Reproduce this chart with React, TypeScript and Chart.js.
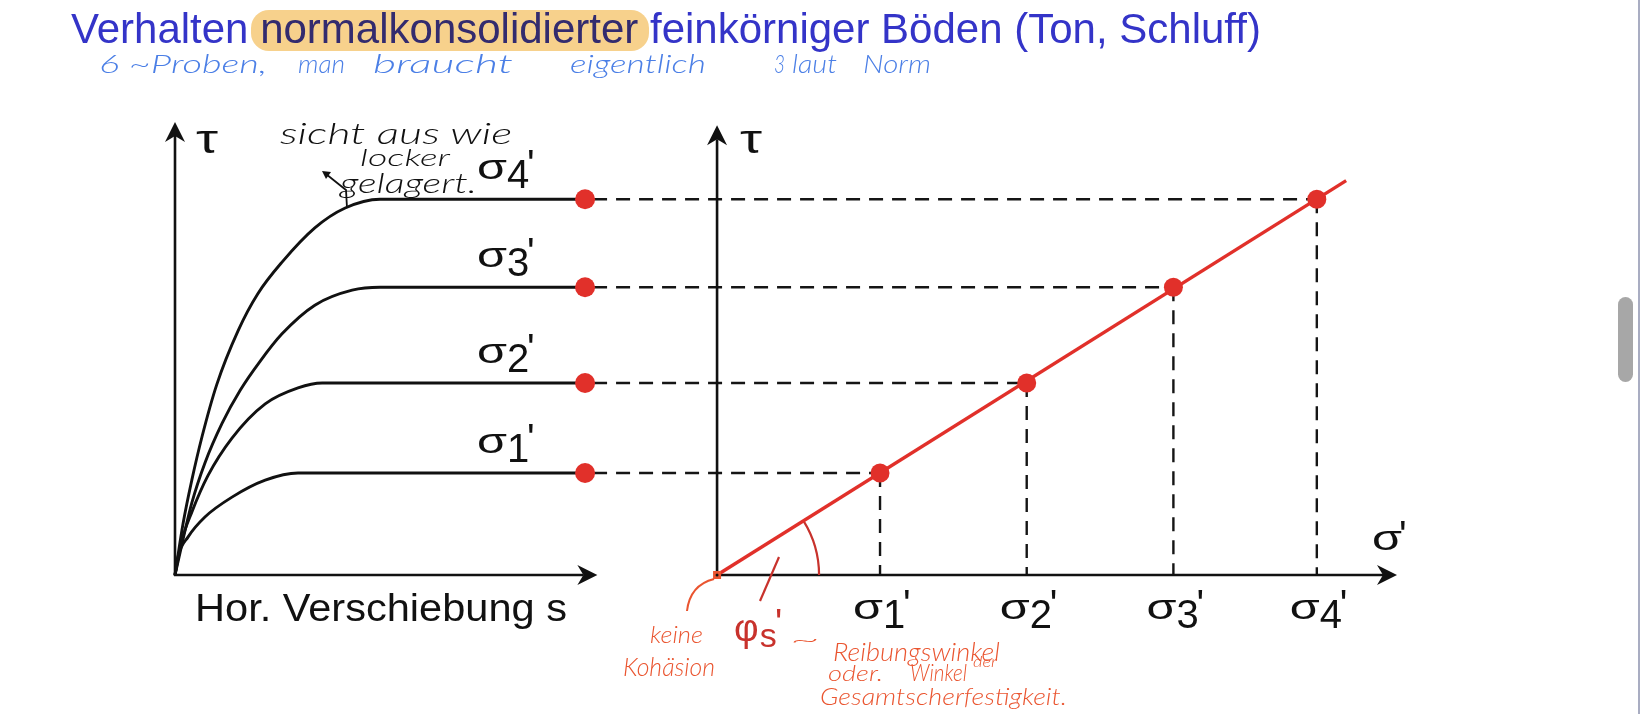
import React, { useEffect, useRef } from "react";
import { Chart, registerables } from "chart.js";

Chart.register(...registerables);

// ---------------- data ----------------
// shear stress axis (tau) shared by both diagrams
const tauAxisMax = 139;
// left diagram: horizontal displacement s
const shiftAxisEnd = 10.3;
const shiftAtMarker = 10;
// right diagram: effective normal stress sigma'
const sigmaAxisEnd = 208.6;

const sigmaNames = ["1", "2", "3", "4"];
const sigmaValues = [50, 95, 140, 184];
const tauPeak = [31.3, 58.9, 88.3, 115.3];
const failureSigma = [0, 193];
const failureTau = [0, 121];

const shift1 = [0, 0.07, 0.32, 0.73, 1.39, 2.2, 3.0, 10];
const tau1 = [0, 5.5, 11.7, 17.8, 23.9, 29.1, 31.3, 31.3];
const shift2 = [0, 0.17, 0.41, 0.8, 1.39, 2.2, 3.0, 3.59, 10];
const tau2 = [0, 10.7, 19.3, 30.4, 42.0, 52.5, 57.4, 58.9, 58.9];
const shift3 = [0, 0.41, 0.73, 1.15, 1.59, 2.07, 2.61, 3.41, 4.32, 5.0, 10];
const tau3 = [0, 22.1, 34.4, 46.6, 56.7, 65.5, 74.0, 82.8, 87.4, 88.3, 88.3];
const shift4 = [0, 0.2, 0.41, 0.66, 1.02, 1.54, 2.02, 2.61, 3.41, 4.15, 5.0, 10];
const tau4 = [0, 16.0, 29.1, 42.5, 58.5, 75.0, 86.3, 96.0, 106.5, 112.6, 115.3, 115.3];

const curveShifts = [shift1, shift2, shift3, shift4];
const curveTaus = [tau1, tau2, tau3, tau4];

// ---------------- styling / layout ----------------
const W = 1640;
const H = 714;
const PAD = { left: 175, right: 243, top: 122, bottom: 139 };
const SHIFT_SCALE_MAX = 29.8;
const SIGMA_SCALE_MIN = -166.3;
const RED = "#e1302a";
const DARKRED = "#c8322c";
const NOTE_RED = "#ea5530";
const NOTE_BLUE = "#4b7fe6";
const FONT = '"Liberation Sans", Arial, Helvetica, sans-serif';

let mctx: CanvasRenderingContext2D | null = null;
function measure(text: string, font: string) {
  if (!mctx) mctx = document.createElement("canvas").getContext("2d");
  mctx!.font = font;
  return mctx!.measureText(text).width;
}

function arrow(ctx: CanvasRenderingContext2D, x1: number, y1: number, x2: number, y2: number, len = 20, half = 10) {
  const a = Math.atan2(y2 - y1, x2 - x1);
  const ux = Math.cos(a), uy = Math.sin(a);
  const bx = x2 - ux * len * 0.7, by = y2 - uy * len * 0.7;
  ctx.beginPath();
  ctx.moveTo(x1, y1);
  ctx.lineTo(bx, by);
  ctx.stroke();
  ctx.beginPath();
  ctx.moveTo(x2, y2);
  ctx.lineTo(x2 - ux * len - uy * half, y2 - uy * len + ux * half);
  ctx.lineTo(bx, by);
  ctx.lineTo(x2 - ux * len + uy * half, y2 - uy * len - ux * half);
  ctx.closePath();
  ctx.fill();
}

function fitText(ctx: CanvasRenderingContext2D, text: string, x: number, y: number, font: string, width?: number) {
  ctx.font = font;
  const w = ctx.measureText(text).width;
  ctx.save();
  ctx.translate(x, y);
  if (width) ctx.scale(width / w, 1);
  ctx.fillText(text, 0, 0);
  ctx.restore();
  return width ?? w;
}

// sigma with subscript digit and prime; base = sigma baseline
function sigmaLabel(ctx: CanvasRenderingContext2D, digit: string, x: number, base: number) {
  ctx.fillStyle = "#111";
  ctx.textBaseline = "alphabetic";
  fitText(ctx, "σ", x, base, `35px ${FONT}`, 30);
  if (digit) {
    fitText(ctx, digit, x + 30, base + 9, `40px ${FONT}`);
    fitText(ctx, "'", x + 50, base - 1, `40px ${FONT}`);
  }
}

const slidePlugin = {
  id: "slide",
  beforeDatasetsDraw(chart: any) {
    const ctx: CanvasRenderingContext2D = chart.ctx;
    const xs = chart.scales.xs, xg = chart.scales.xsig, y = chart.scales.y;
    ctx.save();
    // dashed guides
    ctx.strokeStyle = "#151515";
    ctx.lineWidth = 2.4;
    ctx.setLineDash([14, 9]);
    sigmaValues.forEach((s, i) => {
      const py = y.getPixelForValue(tauPeak[i]);
      const px = xg.getPixelForValue(s);
      ctx.beginPath();
      ctx.moveTo(xs.getPixelForValue(shiftAtMarker) + 8, py);
      ctx.lineTo(px, py);
      ctx.stroke();
      ctx.beginPath();
      ctx.moveTo(px, py);
      ctx.lineTo(px, y.getPixelForValue(0));
      ctx.stroke();
    });
    ctx.setLineDash([]);
    // axes
    ctx.strokeStyle = "#111";
    ctx.fillStyle = "#111";
    ctx.lineWidth = 2.6;
    const y0 = y.getPixelForValue(0);
    const lx = xs.getPixelForValue(0);
    arrow(ctx, lx, y0 + 1, lx, y.getPixelForValue(tauAxisMax));
    arrow(ctx, lx - 1, y0, xs.getPixelForValue(shiftAxisEnd), y0);
    const rx = xg.getPixelForValue(0);
    arrow(ctx, rx, y0 + 1, rx, y.getPixelForValue(tauAxisMax - 1));
    arrow(ctx, rx - 1, y0, xg.getPixelForValue(sigmaAxisEnd), y0);
    // friction angle arc
    const p1x = xg.getPixelForValue(failureSigma[1]);
    const p1y = y.getPixelForValue(failureTau[1]);
    const ang = Math.atan2(p1y - y0, p1x - rx);
    ctx.strokeStyle = DARKRED;
    ctx.lineWidth = 2.2;
    ctx.beginPath();
    ctx.arc(rx, y0, 102, ang, 0);
    ctx.stroke();
    ctx.beginPath();
    ctx.moveTo(760, 601);
    ctx.lineTo(779, 557);
    ctx.stroke();
    ctx.restore();
  },
  afterDatasetsDraw(chart: any) {
    const ctx: CanvasRenderingContext2D = chart.ctx;
    const xs = chart.scales.xs, xg = chart.scales.xsig, y = chart.scales.y;
    ctx.save();
    ctx.fillStyle = "#111";
    ctx.textBaseline = "alphabetic";
    // tau labels
    fitText(ctx, "τ", 196, 153, `40px ${FONT}`, 22);
    fitText(ctx, "τ", 740, 153, `40px ${FONT}`, 22);
    // left sigma labels
    sigmaValues.forEach((_, i) => {
      const py = y.getPixelForValue(tauPeak[i]);
      sigmaLabel(ctx, sigmaNames[i], xs.getPixelForValue(shiftAtMarker) - 108, py - 20);
    });
    // bottom sigma labels
    sigmaValues.forEach((s, i) => {
      sigmaLabel(ctx, sigmaNames[i], xg.getPixelForValue(s) - 27, 619);
    });
    // sigma' axis label
    sigmaLabel(ctx, "", 1372, 550);
    fitText(ctx, "'", 1399, 549, `40px ${FONT}`);
    // x title
    fitText(ctx, "Hor. Verschiebung s", 195, 621, `38px ${FONT}`, 372);
    // phi_s'
    ctx.fillStyle = DARKRED;
    const wp = fitText(ctx, "φ", 734, 641, `38px ${FONT}`);
    fitText(ctx, "s", 734 + wp + 1, 647, `34px ${FONT}`);
    fitText(ctx, "'", 775, 636, `38px ${FONT}`);
    // origin marker + note curve
    const ox = xg.getPixelForValue(0), oy = y.getPixelForValue(0);
    ctx.strokeStyle = NOTE_RED;
    ctx.lineWidth = 2;
    ctx.beginPath();
    ctx.moveTo(ox - 3, oy + 4);
    ctx.quadraticCurveTo(690, 585, 687, 611);
    ctx.stroke();
    ctx.fillStyle = NOTE_RED;
    ctx.fillRect(ox - 4, oy - 4, 8, 8);
    ctx.fillStyle = "#111";
    ctx.beginPath();
    ctx.arc(ox, oy, 1.5, 0, Math.PI * 2);
    ctx.fill();
    // handwritten arrow near sigma4 curve
    ctx.strokeStyle = "#111";
    ctx.lineWidth = 1.8;
    ctx.beginPath();
    ctx.moveTo(347, 208);
    ctx.lineTo(346, 190);
    ctx.lineTo(326, 174);
    ctx.stroke();
    ctx.beginPath();
    ctx.moveTo(322, 171);
    ctx.lineTo(331, 172);
    ctx.lineTo(326, 179);
    ctx.closePath();
    ctx.fillStyle = "#111";
    ctx.fill();
    ctx.restore();
  },
};

type NoteProps = { text: string; left: number; top: number; width: number; size: number; color: string };
function Note({ text, left, top, width, size, color }: NoteProps) {
  const font = `italic 300 ${size}px Lato, "DejaVu Sans", sans-serif`;
  const natural = measure(text, font) || width;
  return (
    <span
      style={{
        position: "absolute",
        left,
        top,
        whiteSpace: "nowrap",
        font,
        lineHeight: `${size}px`,
        color,
        transformOrigin: "0 0",
        transform: `scaleX(${width / natural})`,
        zIndex: 3,
      }}
    >
      {text}
    </span>
  );
}

const notes: NoteProps[] = [
  { text: "6 ~Proben,", left: 99, top: 51, width: 168, size: 25, color: NOTE_BLUE },
  { text: "man", left: 298, top: 51, width: 47, size: 25, color: NOTE_BLUE },
  { text: "braucht", left: 373, top: 51, width: 140, size: 25, color: NOTE_BLUE },
  { text: "eigentlich", left: 570, top: 51, width: 136, size: 25, color: NOTE_BLUE },
  { text: "3", left: 774, top: 51, width: 11, size: 25, color: NOTE_BLUE },
  { text: "laut", left: 792, top: 51, width: 45, size: 25, color: NOTE_BLUE },
  { text: "Norm", left: 863, top: 51, width: 68, size: 25, color: NOTE_BLUE },
  { text: "sicht aus wie", left: 280, top: 117, width: 233, size: 30, color: "#111" },
  { text: "locker", left: 360, top: 145, width: 90, size: 24, color: "#111" },
  { text: "gelagert.", left: 340, top: 168, width: 137, size: 28, color: "#111" },
  { text: "keine", left: 650, top: 622, width: 53, size: 24, color: NOTE_RED },
  { text: "Kohäsion", left: 623, top: 653, width: 92, size: 26, color: NOTE_RED },
  { text: "~", left: 790, top: 628, width: 30, size: 22, color: NOTE_RED },
  { text: "Reibungswinkel", left: 833, top: 638, width: 167, size: 26, color: NOTE_RED },
  { text: "oder.", left: 828, top: 662, width: 55, size: 22, color: NOTE_RED },
  { text: "Winkel", left: 910, top: 660, width: 57, size: 24, color: NOTE_RED },
  { text: "der", left: 973, top: 654, width: 24, size: 15, color: NOTE_RED },
  { text: "Gesamtscherfestigkeit.", left: 820, top: 684, width: 247, size: 24, color: NOTE_RED },
];

export default function App() {
  const ref = useRef<HTMLCanvasElement>(null);

  useEffect(() => {
    const canvas = ref.current;
    if (!canvas) return;
    const curveSets = curveShifts.map((sArr, k) => ({
      label: `σ${sigmaNames[k]}'`,
      data: sArr.map((s, i) => ({ x: s, y: curveTaus[k][i] })),
      xAxisID: "xs",
      yAxisID: "y",
      showLine: true,
      borderColor: "#111",
      borderWidth: 2.9,
      pointRadius: 0,
      cubicInterpolationMode: "monotone" as const,
      clip: false as any,
      order: 5,
    }));
    const chart = new Chart(canvas, {
      type: "scatter",
      data: {
        datasets: [
          ...curveSets,
          {
            label: "Scherfestigkeit",
            data: failureSigma.map((s, i) => ({ x: s, y: failureTau[i] })),
            xAxisID: "xsig",
            yAxisID: "y",
            showLine: true,
            borderColor: RED,
            borderWidth: 3.4,
            pointRadius: 0,
            clip: false as any,
            order: 4,
          },
          {
            label: "Peak links",
            data: tauPeak.map((t) => ({ x: shiftAtMarker, y: t })),
            xAxisID: "xs",
            yAxisID: "y",
            showLine: false,
            backgroundColor: RED,
            borderWidth: 0,
            pointRadius: 10,
            clip: false as any,
            order: 1,
          },
          {
            label: "Peak rechts",
            data: sigmaValues.map((s, i) => ({ x: s, y: tauPeak[i] })),
            xAxisID: "xsig",
            yAxisID: "y",
            showLine: false,
            backgroundColor: RED,
            borderWidth: 0,
            pointRadius: 9.5,
            clip: false as any,
            order: 1,
          },
        ],
      },
      options: {
        animation: false,
        responsive: false,
        maintainAspectRatio: false,
        events: [],
        layout: { padding: PAD },
        plugins: {
          legend: { display: false },
          tooltip: { enabled: false },
          title: { display: false },
        },
        scales: {
          x: { type: "linear", display: false },
          xs: { type: "linear", axis: "x", display: false, min: 0, max: SHIFT_SCALE_MAX },
          xsig: { type: "linear", axis: "x", display: false, min: SIGMA_SCALE_MIN, max: sigmaAxisEnd },
          y: { type: "linear", display: false, min: 0, max: tauAxisMax },
        },
      } as any,
      plugins: [slidePlugin],
    });
    return () => chart.destroy();
  }, []);

  return (
    <div style={{ position: "absolute", left: 0, top: 0, width: W, height: H, background: "#fff", overflow: "hidden" }}>
      <div
        style={{
          position: "absolute",
          left: 71,
          top: 8,
          fontFamily: FONT,
          fontSize: 42,
          lineHeight: "42px",
          color: "#3434c8",
          whiteSpace: "nowrap",
          zIndex: 2,
        }}
      >
        Verhalten normalkonsolidierter feinkörniger Böden (Ton, Schluff)
      </div>
      <div
        style={{
          position: "absolute",
          left: 251,
          top: 10,
          width: 398,
          height: 41,
          borderRadius: 18,
          background: "#f7d18c",
          mixBlendMode: "multiply",
          zIndex: 2,
        }}
      />
      <canvas ref={ref} width={W} height={H} style={{ position: "absolute", left: 0, top: 0, width: W, height: H, zIndex: 1 }} />
      {notes.map((n, i) => (
        <Note key={i} {...n} />
      ))}
      <div style={{ position: "absolute", left: 1618, top: 297, width: 15, height: 85, borderRadius: 8, background: "#a7a7a7", zIndex: 3 }} />
      <div style={{ position: "absolute", left: 1638, top: 0, width: 2, height: H, background: "#a9adc2", zIndex: 3 }} />
    </div>
  );
}
